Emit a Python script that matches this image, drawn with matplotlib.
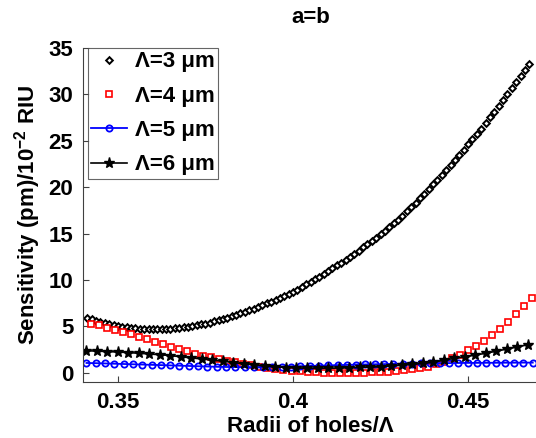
import numpy as np
import matplotlib
matplotlib.use("Agg")
from matplotlib import pyplot as plt

plt.rcParams['font.family'] = ['Liberation Sans', 'DejaVu Sans']
plt.rcParams['font.weight'] = 'bold'
plt.rcParams['mathtext.fontset'] = 'custom'
plt.rcParams['mathtext.rm'] = 'Liberation Sans:bold'
plt.rcParams['mathtext.bf'] = 'Liberation Sans:bold'
plt.rcParams['mathtext.default'] = 'bf'

labels = ['Λ=3 μm', 'Λ=4 μm', 'Λ=5 μm', 'Λ=6 μm']

# Lambda = 3 um
x3 = np.linspace(0.34125, 0.4675, 102)
s3 = [5.95, 5.80, 5.60, 5.45, 5.34, 5.24, 5.14, 5.05, 4.98, 4.91,
      4.85, 4.80, 4.76, 4.73, 4.70, 4.68, 4.67, 4.68, 4.71, 4.74,
      4.79, 4.84, 4.89, 4.95, 5.03, 5.11, 5.20, 5.30, 5.41, 5.53,
      5.66, 5.80, 5.94, 6.09, 6.24, 6.40, 6.57, 6.74, 6.92, 7.10,
      7.28, 7.47, 7.66, 7.85, 8.05, 8.26, 8.48, 8.70, 8.97, 9.24,
      9.52, 9.80, 10.08, 10.37, 10.66, 10.95, 11.25, 11.56, 11.88, 12.20,
      12.52, 12.84, 13.17, 13.50, 13.84, 14.19, 14.54, 14.90, 15.29, 15.69,
      16.09, 16.50, 16.94, 17.39, 17.84, 18.30, 18.79, 19.29, 19.79, 20.30,
      20.82, 21.34, 21.87, 22.40, 22.94, 23.49, 24.04, 24.60, 25.17, 25.74,
      26.32, 26.90, 27.52, 28.14, 28.77, 29.40, 30.05, 30.70, 31.35, 32.00,
      32.65, 33.30]

# Lambda = 4 um
x4 = np.linspace(0.3423, 0.4683, 56)
s4 = [5.30, 5.10, 4.87, 4.63, 4.38, 4.12, 3.87, 3.61, 3.36, 3.10,
      2.80, 2.55, 2.30, 2.07, 1.85, 1.65, 1.46, 1.28, 1.11, 0.95,
      0.80, 0.63, 0.50, 0.38, 0.28, 0.21, 0.14, 0.08, 0.04, 0.01,
      0.00, -0.01, -0.01, 0.00, 0.01, 0.03, 0.06, 0.10, 0.16, 0.24,
      0.35, 0.49, 0.67, 0.90, 1.20, 1.55, 1.95, 2.40, 2.85, 3.40,
      4.05, 4.75, 5.50, 6.30, 7.15, 8.10]

# Lambda = 5 um
x5 = np.linspace(0.341, 0.4685, 49)
s5 = [1.05, 1.03, 1.00, 0.97, 0.94, 0.91, 0.88, 0.85, 0.82, 0.79,
      0.76, 0.73, 0.70, 0.67, 0.64, 0.62, 0.61, 0.60, 0.60, 0.61,
      0.63, 0.65, 0.67, 0.70, 0.73, 0.76, 0.79, 0.82, 0.84, 0.87,
      0.89, 0.91, 0.93, 0.95, 0.97, 0.99, 1.00, 1.02, 1.03, 1.04,
      1.05, 1.06, 1.06, 1.07, 1.07, 1.08, 1.08, 1.09, 1.09]

# Lambda = 6 um
x6 = np.linspace(0.3409, 0.4671, 43)
s6 = [2.37, 2.33, 2.28, 2.23, 2.17, 2.10, 2.02, 1.94, 1.85, 1.72,
      1.60, 1.48, 1.36, 1.24, 1.10, 0.96, 0.83, 0.72, 0.63, 0.56,
      0.51, 0.48, 0.47, 0.48, 0.50, 0.53, 0.57, 0.61, 0.66, 0.72,
      0.80, 0.89, 1.00, 1.13, 1.35, 1.55, 1.72, 1.90, 2.10, 2.32,
      2.55, 2.78, 3.02]

xticks = [0.35, 0.4, 0.45]
xticklabels = ['0.35', '0.4', '0.45']
yticks = [0, 5, 10, 15, 20, 25, 30, 35]

fig = plt.figure(figsize=(5.36, 4.38), dpi=100)
ax = fig.add_axes([83 / 536, 56 / 438, 455 / 536, 334 / 438])

ax.plot(x3, s3, linestyle='none', marker='D', markersize=3.4, markerfacecolor='white',
        markeredgecolor='black', markeredgewidth=1.4, label=labels[0])
ax.plot(x4, s4, linestyle='none', marker='s', markersize=4.0, markerfacecolor='white',
        markeredgecolor='red', markeredgewidth=1.2, label=labels[1])
ax.plot(x5, s5, color='blue', linewidth=1.3, marker='o', markersize=4.5, markerfacecolor='none',
        markeredgecolor='blue', markeredgewidth=1.3, label=labels[2])
ax.plot(x6, s6, color='black', linewidth=1.2, marker='*', markersize=8,
        markerfacecolor='black', markeredgecolor='black', label=labels[3])

ax.set_xlim(0.34, 0.47)
ax.set_ylim(-1, 35)
ax.set_xticks(xticks)
ax.set_xticklabels(xticklabels)
ax.set_yticks(yticks)
ax.tick_params(direction='in', length=4, width=0.8, color='#404040',
               labelsize=16, pad=7)
ax.spines['top'].set_visible(False)
ax.spines['right'].set_visible(False)
for side in ['left', 'bottom']:
    ax.spines[side].set_color('#404040')
    ax.spines[side].set_linewidth(0.8)

ax.set_xlabel('Radii of holes/Λ', fontsize=16, fontweight='bold', labelpad=2)
ax.set_ylabel('Sensitivity (pm)/10$^{-2}$ RIU', fontsize=16, fontweight='bold', labelpad=4)
ax.set_title('a=b', fontsize=16, fontweight='bold', pad=18)

leg = ax.legend(loc='upper left', bbox_to_anchor=(0.011, 1.0), borderaxespad=0,
                fontsize=16, handlelength=1.6, handletextpad=0.35, labelspacing=0.6,
                frameon=True, fancybox=False, borderpad=0.15)
leg.get_frame().set_edgecolor('#404040')
leg.get_frame().set_linewidth(0.8)

plt.savefig('out.png', dpi=100)
